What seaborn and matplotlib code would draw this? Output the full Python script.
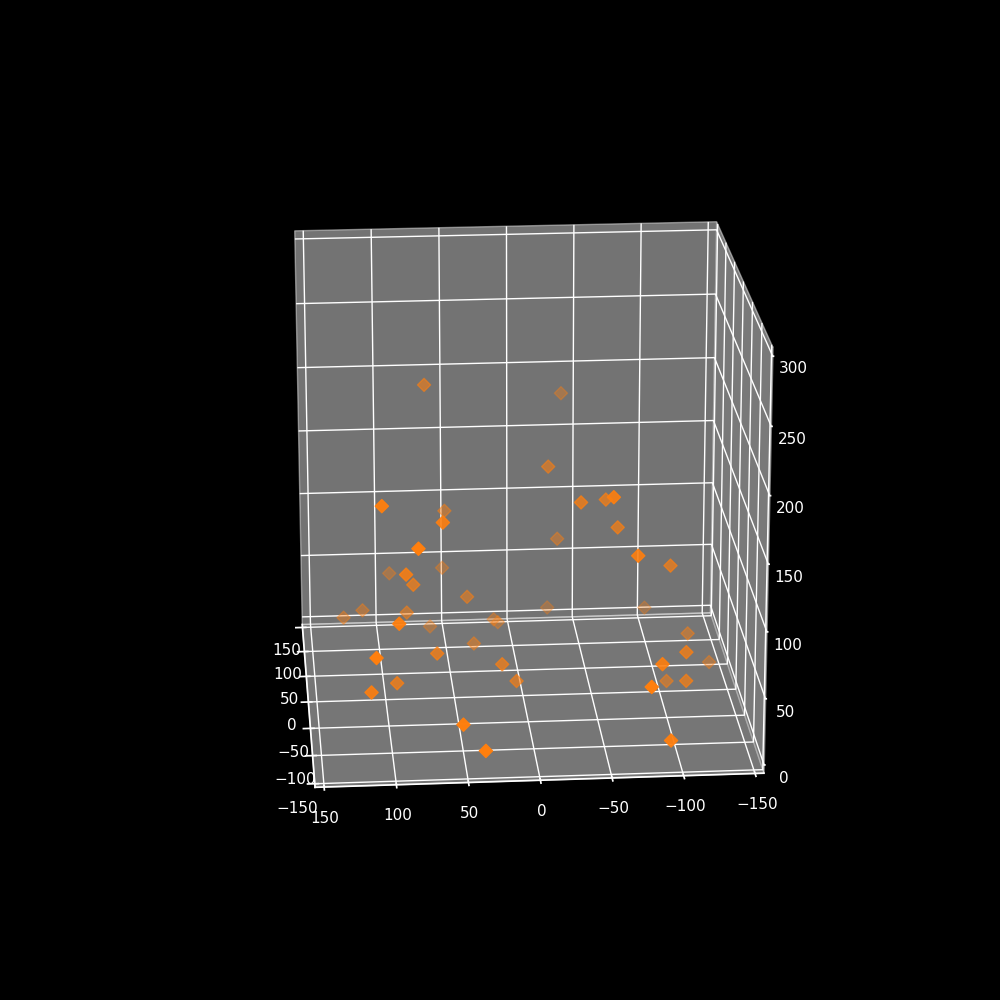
import matplotlib
matplotlib.use("Agg")
import matplotlib.pyplot as plt
import seaborn as sns

sns.set_context("notebook")
plt.style.use("dark_background")
plt.rcParams["font.size"] = 10

xs = [67, -37, -21, -40, -59, -59, -67, 104, 53, 61, 80, -30, -75, -104, 54, 93, 87, 80, 39, -24, -96, 114, 128,
      83, 94, 64, 17, 14, 34, -122, 65, 111, -112, -90, 18, -139, 7, 94, -104, -113, -79, 114, 52, 37, -93]
ys = [61, 113, 34, -20, -7, -64, -14, -67, 59, -60, -93, 61, -79, -26, 76, 78, -56, -16, 22, 76, 70, 55, 54,
      22, -95, 62, 60, 59, 25, 15, -48, -116, -62, -106, -40, 22, -31, -53, -10, -55, -138, -96, -136, -144, -138]
zs = [215, 189, 159, 150, 147, 169, 128, 168, 118, 152, 145, 93, 130, 102, 67, 63, 112, 89, 64, 33, 33, 43, 38,
      53, 90, 26, 31, 29, 26, 33, 48, 73, 49, 58, 35, 7, 18, 28, 6, 24, 54, 39, 29, 12, 13]
xy_ticks = [-150, -100, -50, 0, 50, 100, 150]
z_ticks = [0, 50, 100, 150, 200, 250, 300]

fig = plt.figure(figsize=(10, 10), dpi=100)
ax = fig.add_subplot(projection="3d")
ax.scatter(xs, ys, zs, marker="D", color="#ff7f0e", s=45)

ax.set_xlim(-156.25, 156.25)
ax.set_ylim(156.25, -156.25)
ax.set_zlim(-6.25, 306.25)
ax.set_xticks(xy_ticks)
ax.set_yticks(xy_ticks)
ax.set_zticks(z_ticks)

# z axis sits on the right edge, with short ticks and a faint line
ax.zaxis.set_ticks_position("lower")
ax.zaxis._axinfo["tick"]["inward_factor"] = 0.0
ax.zaxis._axinfo["tick"]["outward_factor"] = 0.02
ax.zaxis.line.set_color((1, 1, 1, 0.45))

ax.set_box_aspect((1, 0.99, 0.995), zoom=0.948)
ax.view_init(elev=19.6, azim=85.5)

fig.savefig("out.png", dpi=100)
